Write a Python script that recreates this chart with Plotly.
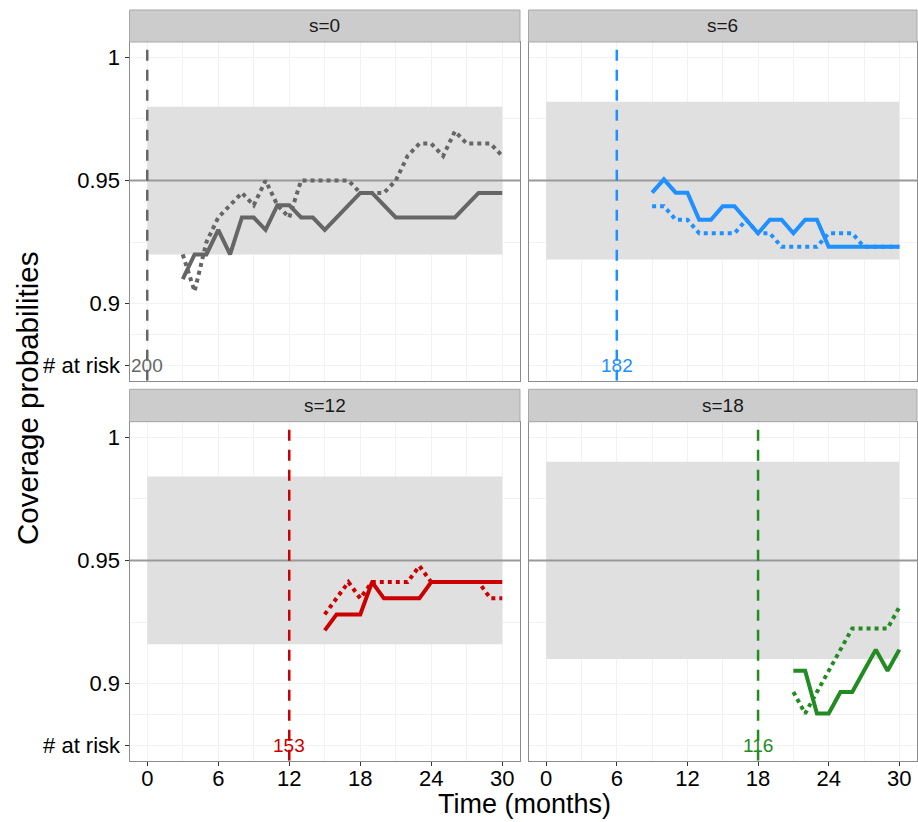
import plotly.graph_objects as go

# ---------------- data ----------------
panel_s = [0, 6, 12, 18]
panel_titles = ["s=0", "s=6", "s=12", "s=18"]
n_at_risk = [200, 182, 153, 116]
panel_colors = ["#666666", "#1E90FF", "#CC0000", "#228B22"]

# band limits
band_low = [0.920, 0.918, 0.916, 0.910]
band_high = [0.980, 0.982, 0.984, 0.990]
band_x = [0, 30]
nominal = 0.95

months_s0 = [3, 4, 5, 6, 7, 8, 9, 10, 11, 12, 13, 14, 15, 16, 17, 18, 19, 20, 21, 22, 23, 24, 25, 26, 27, 28, 29, 30]
solid_s0 = [0.910, 0.920, 0.920, 0.930, 0.920, 0.935, 0.935, 0.930, 0.940, 0.940, 0.935, 0.935, 0.930, 0.935,
            0.940, 0.945, 0.945, 0.940, 0.935, 0.935, 0.935, 0.935, 0.935, 0.935, 0.940, 0.945, 0.945, 0.945]
dotted_s0 = [0.920, 0.905, 0.925, 0.935, 0.940, 0.945, 0.940, 0.950, 0.940, 0.935, 0.950, 0.950, 0.950, 0.950,
             0.950, 0.945, 0.945, 0.945, 0.950, 0.960, 0.965, 0.965, 0.960, 0.970, 0.965, 0.965, 0.965, 0.960]

months_s6 = [9, 10, 11, 12, 13, 14, 15, 16, 17, 18, 19, 20, 21, 22, 23, 24, 25, 26, 27, 28, 29, 30]
solid_s6 = [0.9451, 0.9505, 0.9451, 0.9451, 0.9341, 0.9341, 0.9396, 0.9396, 0.9341, 0.9286, 0.9341,
            0.9341, 0.9286, 0.9341, 0.9341, 0.9231, 0.9231, 0.9231, 0.9231, 0.9231, 0.9231, 0.9231]
dotted_s6 = [0.9396, 0.9396, 0.9341, 0.9341, 0.9286, 0.9286, 0.9286, 0.9286, 0.9341, 0.9286, 0.9286,
             0.9231, 0.9231, 0.9231, 0.9231, 0.9286, 0.9286, 0.9286, 0.9231, 0.9231, 0.9231, 0.9231]

months_s12 = [15, 16, 17, 18, 19, 20, 21, 22, 23, 24, 25, 26, 27, 28, 29, 30]
solid_s12 = [0.9216, 0.9281, 0.9281, 0.9281, 0.9412, 0.9346, 0.9346, 0.9346, 0.9346, 0.9412, 0.9412,
             0.9412, 0.9412, 0.9412, 0.9412, 0.9412]
dotted_s12 = [0.9281, 0.9346, 0.9412, 0.9346, 0.9412, 0.9412, 0.9412, 0.9412, 0.9477, 0.9412, 0.9412,
              0.9412, 0.9412, 0.9412, 0.9346, 0.9346]

months_s18 = [21, 22, 23, 24, 25, 26, 27, 28, 29, 30]
solid_s18 = [0.9052, 0.9052, 0.8879, 0.8879, 0.8966, 0.8966, 0.9052, 0.9138, 0.9052, 0.9138]
dotted_s18 = [0.8966, 0.8879, 0.8966, 0.9052, 0.9138, 0.9224, 0.9224, 0.9224, 0.9224, 0.9310]

x_ticks = [0, 6, 12, 18, 24, 30]
x_minor = [3, 9, 15, 21, 27]
y_tickvals = [0.875, 0.9, 0.95, 1.0]
y_ticktext = ["# at risk", "0.9", "0.95", "1"]
y_minor = [0.8875, 0.925, 0.975]
at_risk_level = 0.875

months = [months_s0, months_s6, months_s12, months_s18]
solids = [solid_s0, solid_s6, solid_s12, solid_s18]
dotteds = [dotted_s0, dotted_s6, dotted_s12, dotted_s18]

# axis ranges (ggplot-style 5% expansion)
x_range = [-1.5, 31.5]
y_range = [0.86875, 1.00625]

# ---------------- layout geometry (pixels) ----------------
W, H = 918, 822
cols = [(129.5, 520.0), (528.5, 917.0)]
rows = [(42.0, 380.7), (421.7, 760.7)]
strips = [(10.0, 42.0), (389.3, 421.7)]


def px_x(p):
    return p / W


def px_y(p):
    return 1 - p / H


fig = go.Figure()
layout = dict(
    width=W, height=H,
    margin=dict(l=0, r=0, t=0, b=0),
    paper_bgcolor="white", plot_bgcolor="white",
    showlegend=False,
    font=dict(family="Liberation Sans, Arial, sans-serif", color="black"),
)
shapes = []
annotations = []

grid_col = "#F2F2F2"
border_col = "#8C8C8C"

for i in range(4):
    r, c = divmod(i, 2)
    idx = "" if i == 0 else str(i + 1)
    xa, ya = "x" + idx, "y" + idx
    col = panel_colors[i]

    layout["xaxis" + idx] = dict(
        domain=[px_x(cols[c][0]), px_x(cols[c][1])], anchor=ya,
        range=x_range, tickvals=x_ticks, ticktext=[str(v) for v in x_ticks],
        showgrid=True, gridcolor=grid_col, gridwidth=1,
        minor=dict(tickvals=x_minor, showgrid=True, gridcolor=grid_col, gridwidth=1),
        showline=True, mirror=True, linecolor=border_col, linewidth=1,
        zeroline=False,
        ticks="outside" if r == 1 else "", ticklen=4, tickcolor="#333333",
        ticklabelstandoff=-6,
        showticklabels=(r == 1), tickfont=dict(size=22, color="black"),
    )
    layout["yaxis" + idx] = dict(
        domain=[px_y(rows[r][1]), px_y(rows[r][0])], anchor=xa,
        range=y_range, tickvals=y_tickvals, ticktext=y_ticktext,
        showgrid=True, gridcolor=grid_col, gridwidth=1,
        minor=dict(tickvals=y_minor, showgrid=True, gridcolor=grid_col, gridwidth=1),
        showline=True, mirror=True, linecolor=border_col, linewidth=1,
        zeroline=False,
        ticks="outside" if c == 0 else "", ticklen=4, tickcolor="#333333",
        showticklabels=(c == 0), tickfont=dict(size=22, color="black"),
    )

    # confidence band
    shapes.append(dict(type="rect", xref=xa, yref=ya, x0=band_x[0], x1=band_x[1],
                       y0=band_low[i], y1=band_high[i], fillcolor="#E0E0E0",
                       line=dict(width=0), layer="between"))
    # nominal line
    shapes.append(dict(type="line", xref=xa, yref=ya, x0=x_range[0], x1=x_range[1],
                       y0=nominal, y1=nominal, line=dict(color="#999999", width=2), layer="between"))
    # landmark line
    shapes.append(dict(type="line", xref=xa, yref=ya, x0=panel_s[i], x1=panel_s[i],
                       y0=y_range[0], y1=y_range[1],
                       line=dict(color=col, width=2.5, dash="11px,9px"), layer="between"))

    # strip
    shapes.append(dict(type="rect", xref="paper", yref="paper",
                       x0=px_x(cols[c][0]), x1=px_x(cols[c][1]),
                       y0=px_y(strips[r][1]), y1=px_y(strips[r][0]),
                       fillcolor="#CCCCCC", line=dict(color="#A8A8A8", width=1)))
    annotations.append(dict(xref="paper", yref="paper",
                            x=px_x((cols[c][0] + cols[c][1]) / 2),
                            y=px_y((strips[r][0] + strips[r][1]) / 2),
                            text=panel_titles[i], showarrow=False,
                            font=dict(size=19, color="#1a1a1a"),
                            xanchor="center", yanchor="middle"))
    # number at risk
    annotations.append(dict(xref=xa, yref=ya, x=panel_s[i], y=at_risk_level,
                            text=str(n_at_risk[i]), showarrow=False,
                            font=dict(size=19, color=col),
                            xanchor="center", yanchor="middle"))

    fig.add_trace(go.Scatter(x=months[i], y=dotteds[i], mode="lines", xaxis=xa, yaxis=ya,
                             line=dict(color=col, width=4, dash="dot"), hoverinfo="skip"))
    fig.add_trace(go.Scatter(x=months[i], y=solids[i], mode="lines", xaxis=xa, yaxis=ya,
                             line=dict(color=col, width=4), hoverinfo="skip"))

annotations.append(dict(xref="paper", yref="paper", x=px_x(524), y=px_y(804),
                        text="Time (months)", showarrow=False,
                        font=dict(size=27, color="black"), xanchor="center", yanchor="middle"))
annotations.append(dict(xref="paper", yref="paper", x=px_x(28), y=px_y(398),
                        text="Coverage probabilities", showarrow=False, textangle=-90,
                        font=dict(size=29.5, color="black"), xanchor="center", yanchor="middle"))

layout["shapes"] = shapes
layout["annotations"] = annotations
fig.update_layout(**layout)
fig.write_html("out.html", config={"displayModeBar": False},
               post_script="document.body.style.margin='0px';document.body.style.overflow='hidden';")
